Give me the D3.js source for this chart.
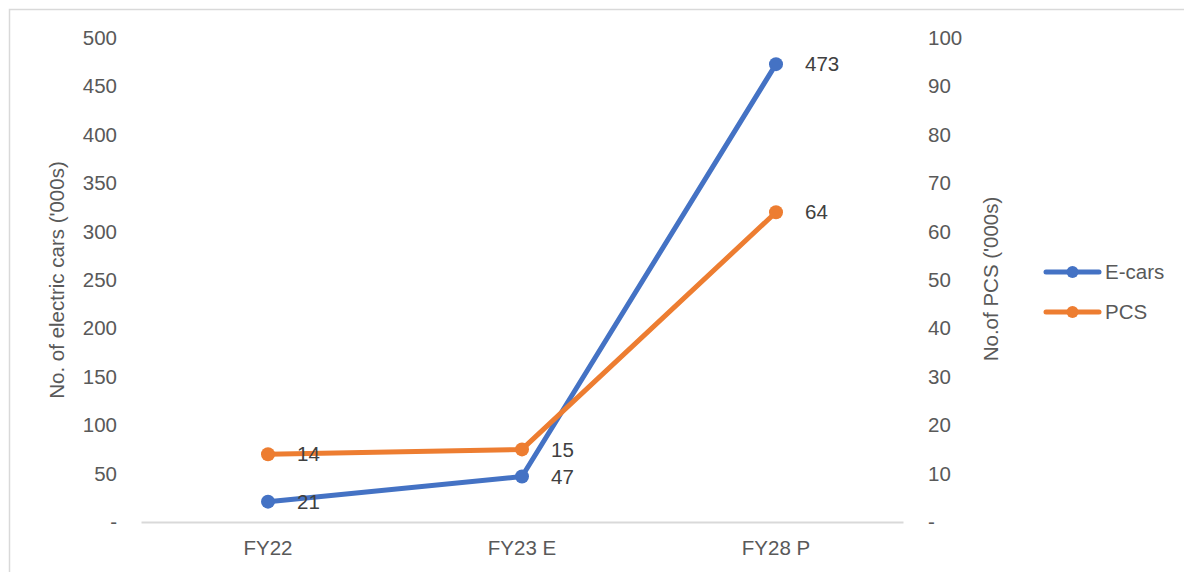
<!DOCTYPE html>
<html><head><meta charset="utf-8">
<script src="https://cdn.jsdelivr.net/npm/d3@7"></script>
<style>body{margin:0;background:#fff;font-family:Arial,"Liberation Sans",sans-serif}</style>
</head><body><svg id="c" width="1184" height="572"></svg>
<script>
const categories = ["FY22", "FY23 E", "FY28 P"];
const ecars = [21, 47, 473];
const pcs = [14, 15, 64];
const leftTicks = [0, 50, 100, 150, 200, 250, 300, 350, 400, 450, 500];
const rightTicks = [0, 10, 20, 30, 40, 50, 60, 70, 80, 90, 100];
const seriesNames = ["E-cars", "PCS"];
const colors = ["#4472C4", "#ED7D31"];

const FONT = "Arial, 'Liberation Sans', sans-serif";
const FS = "20.5px";
const svg = d3.select("#c");
svg.append("rect").attr("x", 9.5).attr("y", 9.5).attr("width", 1190).attr("height", 580)
  .attr("fill", "none").attr("stroke", "#d9d9d9").attr("stroke-width", 1.5);

const L = 141, R = 903, T = 38, B = 522;
const x = d3.scaleBand().domain(categories).range([L, R]);
const yL = d3.scaleLinear().domain([0, 500]).range([B, T]);
const yR = d3.scaleLinear().domain([0, 100]).range([B, T]);
const fmt = v => v === 0 ? "-" : String(v);

const axL = svg.append("g").attr("transform", `translate(117,0)`)
  .call(d3.axisLeft(yL).tickValues(leftTicks).tickFormat(fmt).tickSize(0));
const axR = svg.append("g").attr("transform", `translate(928,0)`)
  .call(d3.axisRight(yR).tickValues(rightTicks).tickFormat(fmt).tickSize(0));
[axL, axR].forEach(a => {
  a.select(".domain").remove();
  a.selectAll("text").attr("x", 0).attr("fill", "#595959").style("font-size", FS).style("font-family", FONT);
});

const axX = svg.append("g").attr("transform", `translate(0,${B})`)
  .call(d3.axisBottom(x).tickSize(0));
axX.select(".domain").attr("stroke", "#d9d9d9").attr("stroke-width", 2);
axX.selectAll("text").attr("fill", "#595959").attr("dy", "0").attr("y", 33)
  .style("font-size", FS).style("font-family", FONT);

svg.append("text").attr("transform", `translate(57,280) rotate(-90)`).attr("text-anchor", "middle")
  .attr("dy", "0.35em").attr("fill", "#595959").style("font-size", FS).style("font-family", FONT)
  .text("No. of electric cars ('000s)");
svg.append("text").attr("transform", `translate(991,279) rotate(-90)`).attr("text-anchor", "middle")
  .attr("dy", "0.35em").attr("fill", "#595959").style("font-size", FS).style("font-family", FONT)
  .text("No.of PCS ('000s)");

const cx = c => x(c) + x.bandwidth() / 2;
const data = [
  {name: seriesNames[0], vals: ecars, y: yL, color: colors[0]},
  {name: seriesNames[1], vals: pcs, y: yR, color: colors[1]}
];
const line = d3.line();
data.forEach(s => {
  const pts = categories.map((c, i) => [cx(c), s.y(s.vals[i])]);
  svg.append("path").attr("d", line(pts)).attr("fill", "none").attr("stroke", s.color)
    .attr("stroke-width", 5).attr("stroke-linejoin", "round");
  svg.selectAll(null).data(pts).enter().append("circle")
    .attr("cx", d => d[0]).attr("cy", d => d[1]).attr("r", 7).attr("fill", s.color);
  svg.selectAll(null).data(pts).enter().append("text")
    .attr("x", d => d[0] + 29).attr("y", d => d[1]).attr("dy", "0.35em")
    .attr("fill", "#404040").style("font-size", FS).style("font-family", FONT).text((d, i) => s.vals[i]);
});

data.forEach((s, i) => {
  const ly = 272 + i * 40;
  svg.append("line").attr("x1", 1046).attr("x2", 1099).attr("y1", ly).attr("y2", ly)
    .attr("stroke", s.color).attr("stroke-width", 5).attr("stroke-linecap", "round");
  svg.append("circle").attr("cx", 1072.5).attr("cy", ly).attr("r", 6).attr("fill", s.color);
  svg.append("text").attr("x", 1105).attr("y", ly).attr("dy", "0.35em").attr("fill", "#595959")
    .style("font-size", FS).style("font-family", FONT).text(s.name);
});
</script></body></html>
